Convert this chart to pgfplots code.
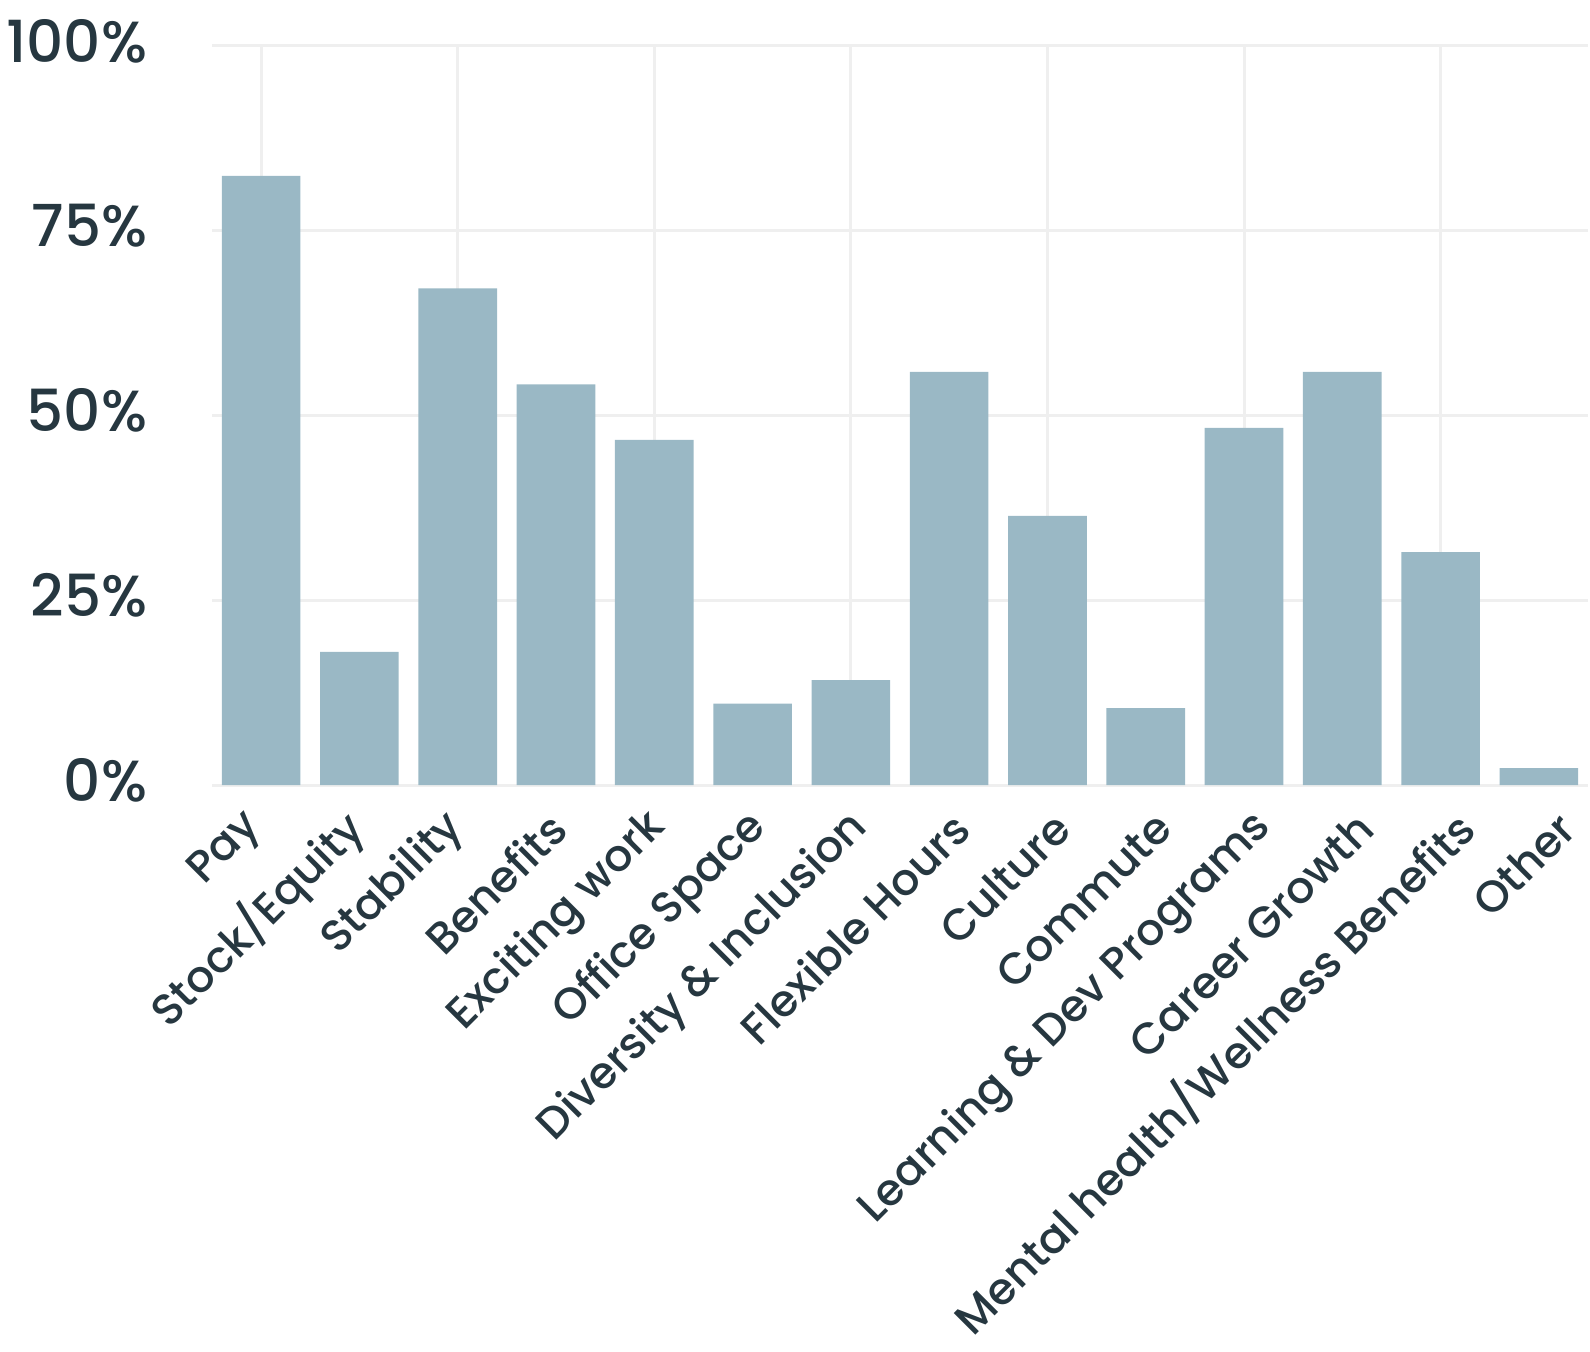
\documentclass[border=0pt]{standalone}
\usepackage{fontspec}
\setmainfont{Poppins Medium}
\usepackage{pgfplots}
\pgfplotsset{compat=1.18}
\definecolor{barc}{HTML}{9AB8C5}
\definecolor{txt}{HTML}{263740}
\definecolor{grd}{HTML}{EFEFEF}
\begin{document}
\begin{tikzpicture}
\begin{axis}[
  name=ax, at={(0,0)}, anchor=south west,
  scale only axis,
  width=344pt, height=184.8pt,
  xmin=-0.5, xmax=13.5,
  ymin=0, ymax=100,
  axis line style={draw=none},
  major tick length=0pt,
  ybar, bar width=0.8,
  ytick={0,25,50,75,100},
  yticklabels={0\%,25\%,50\%,75\%,100\%},
  ymajorgrids,
  grid style={grd, line width=0.75pt},
  % labels sit on a slightly wider spacing than the bars
  xtick={0,1.027,2.054,3.080,4.107,5.134,6.161,7.188,8.214,9.241,10.268,11.295,12.322,13.348},
  xticklabels={Pay, Stock/Equity, Stability, Benefits, Exciting work, Office Space,
    Diversity \& Inclusion, Flexible Hours, Culture, Commute, Learning \& Dev Programs,
    Career Growth, Mental health/Wellness Benefits, Other},
  extra x ticks={0,2,...,12},
  extra x tick labels={},
  extra x tick style={grid=major},
  yticklabel style={font=\fontsize{14.5}{16}\selectfont, text=txt, inner sep=0pt, xshift=-16pt, yshift=1.2pt},
  xticklabel style={font=\fontsize{11}{13}\selectfont, text=txt, rotate=45, anchor=east, inner sep=0pt, yshift=-5.3pt, xshift=-7.2pt},
]
\addplot[fill=barc, draw=none] coordinates {
  (0,82.4) (1,18.0) (2,67.2) (3,54.2) (4,46.7) (5,11.0) (6,14.2)
  (7,55.9) (8,36.4) (9,10.4) (10,48.3) (11,55.9) (12,31.5) (13,2.3)
};
\end{axis}
\pgfresetboundingbox
\path (-53pt,-141.5pt) rectangle ++(397.5pt,337.75pt);
\end{tikzpicture}
\end{document}
